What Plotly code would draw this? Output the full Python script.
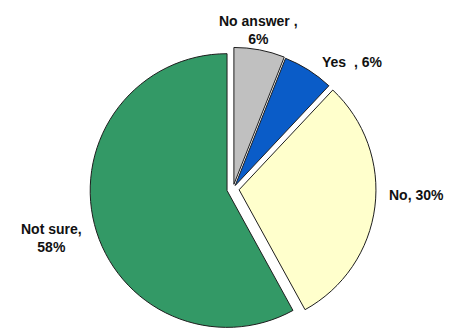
import plotly.graph_objects as go

# Survey answers, clockwise from 12 o'clock
categories = ["No answer", "Yes", "No", "Not sure"]
shares = [6, 6, 30, 58]
slice_colors = ["#C0C0C0", "#0A5CC8", "#FFFFCC", "#339966"]
slice_pull = [0.035, 0.03, 0.045, 0.045]

# Label text pieces: name suffix and the joint between name and value
name_suffix = [" ,", "  ,", ",", ","]
joiners = ["<br>", " ", " ", "<br>"]
label_pos = [(258, 30), (352, 62), (416, 195), (51, 238)]  # pixel centres

W, H = 450, 332
CX, HALF = 233, 143

fig = go.Figure(
    go.Pie(
        labels=categories,
        values=shares,
        sort=False,
        direction="clockwise",
        rotation=0,
        pull=slice_pull,
        marker=dict(colors=slice_colors, line=dict(color="#1e1e1e", width=1)),
        textinfo="none",
        hoverinfo="label+percent",
        domain=dict(x=[(CX - HALF) / W, (CX + HALF) / W], y=[0, 2 * HALF / H]),
        showlegend=False,
    )
)

for name, suf, j, v, (px, py) in zip(categories, name_suffix, joiners, shares, label_pos):
    fig.add_annotation(
        x=px / W,
        y=1 - py / H,
        xref="paper",
        yref="paper",
        text=f"<b>{name}{suf}{j}{v}%</b>",
        showarrow=False,
        xanchor="center",
        yanchor="middle",
        align="center",
        font=dict(family="Liberation Sans, Arial, sans-serif", size=14, color="#111"),
    )

fig.update_layout(
    width=W,
    height=H,
    margin=dict(l=0, r=0, t=0, b=0),
    paper_bgcolor="white",
    plot_bgcolor="white",
)

fig.write_html("out.html")
